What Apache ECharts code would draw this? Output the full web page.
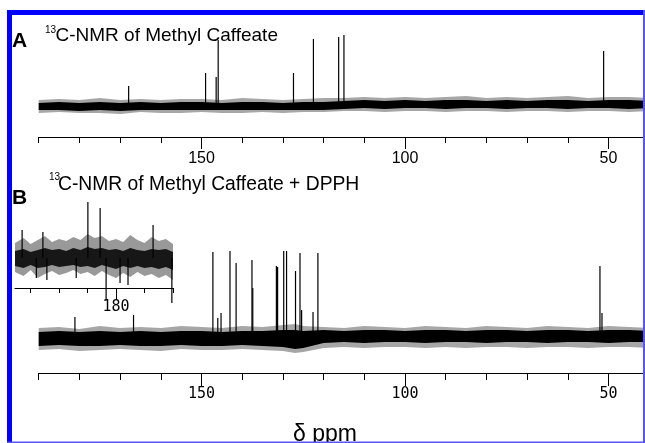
<!DOCTYPE html>
<html><head><meta charset="utf-8">
<script src="https://cdn.jsdelivr.net/npm/echarts@6.0.0/dist/echarts.min.js"></script>
<style>html,body{margin:0;padding:0;background:#fff}#c{width:645px;height:443px}</style>
</head><body><div id="c"></div>
<script>
// ---- axis ticks / labels (ppm) ----
const ticksMain = [50,60,70,80,90,100,110,120,130,140,150,160,170,180,190];
const labelsMain = [50,100,150];
const ticksInset = [178,179,181,182,183];
const labelsInset = [180];

// ---- Panel A: 13C-NMR of Methyl Caffeate (ppm, intensity a.u.) ----
const peaksA_ppm = [167.9,149.0,146.4,145.9,127.4,122.5,116.3,115.0,51.2];
const peaksA_int = [20,33,29,66,33,67,69,71,55];
// noise envelope A (read every 5 ppm)
const envA_ppm   = [190,185,180,175,170,165,160,155,150,145,140,135,130,125,120,115,110,105,100,95,90,85,80,75,70,65,60,55,50,45,40];
const envA_outHi = [6,7,6,8,6,7,6,7,7,6,8,7,6,7,8,8,9,8,9,8,9,10,8,9,8,9,10,8,9,9,8];
const envA_outLo = [-7,-6,-7,-7,-8,-6,-7,-7,-6,-7,-7,-6,-7,-6,-6,-5,-5,-6,-5,-5,-6,-5,-5,-6,-5,-5,-6,-5,-5,-6,-5];
const envA_inHi  = [3,4,3,4,3,4,3,4,4,3,4,4,3,4,4,5,6,5,6,5,6,6,5,6,5,6,6,5,6,6,5];
const envA_inLo  = [-4,-4,-5,-4,-5,-4,-4,-4,-4,-4,-4,-4,-4,-4,-4,-3,-2,-3,-2,-2,-3,-2,-2,-3,-2,-2,-3,-2,-2,-3,-2];

// ---- Panel B: 13C-NMR of Methyl Caffeate + DPPH ----
const peaksB_ppm = [181.1,166.7,147.2,146.0,145.2,143.0,141.5,137.6,137.4,131.6,131.3,129.8,129.1,126.9,125.8,125.4,122.6,121.4,52.1,51.6];
const peaksB_int = [21,23,86,20,25,87,75,78,50,72,71,87,87,67,85,28,26,85,72,25];
const envB_ppm   = [190,185,180,175,170,165,160,155,150,145,140,135,130,127,125,120,115,110,105,100,95,90,85,80,75,70,65,60,55,50,45,40];
const envB_outHi = [10,11,9,12,10,11,10,12,11,10,12,11,13,14,12,11,10,12,11,10,12,11,10,12,11,10,12,11,10,12,11,10];
const envB_outLo = [-12,-11,-13,-12,-11,-12,-13,-11,-12,-12,-11,-12,-13,-15,-14,-10,-9,-10,-9,-9,-10,-9,-10,-9,-9,-10,-9,-9,-10,-9,-9,-10];
const envB_inHi  = [6,7,6,7,6,7,6,7,7,6,7,7,8,8,7,8,7,8,8,7,8,8,7,8,8,7,8,8,7,8,8,7];
const envB_inLo  = [-8,-7,-8,-8,-7,-8,-8,-7,-8,-8,-7,-8,-9,-11,-10,-5,-4,-5,-4,-4,-5,-4,-4,-5,-4,-4,-5,-4,-4,-5,-4,-4];

// ---- Inset (B, ~180 ppm region) ----
const spikesIn_ppm = [183.3,182.8,182.57,182.43,181.4,180.99,180.56,180.35,179.86,179.58,178.7,178.04];
const spikesIn_int = [28,-20,26,-22,-20,56,50,-42,-25,-27,33,-45];
const envIn_ppm   = [183.55,183.25,183,182.75,182.5,182.25,182,181.75,181.5,181.25,181,180.75,180.5,180.25,180,179.75,179.5,179.25,179,178.75,178.5,178.25,178];
const envIn_outHi = [15,20,14,18,22,16,19,17,21,18,24,20,22,17,19,16,23,18,15,21,17,19,14];
const envIn_outLo = [-14,-18,-12,-20,-16,-13,-17,-15,-12,-16,-14,-18,-13,-17,-20,-15,-19,-14,-18,-16,-20,-17,-22];
const envIn_inHi  = [7,9,6,8,10,8,9,7,10,8,11,9,10,8,9,7,10,8,7,9,8,9,6];
const envIn_inLo  = [-8,-10,-7,-10,-9,-7,-9,-8,-7,-9,-8,-10,-7,-9,-11,-8,-10,-8,-10,-9,-11,-9,-12];

function band(xi, ppm, lo, hi, color, opacity) {
  return {
    type: 'custom', xAxisIndex: xi, yAxisIndex: Math.floor(xi/2), clip: false, silent: true,
    data: ppm.map((p,i)=>[p, lo[i], hi[i]]),
    renderItem: function(params, api) {
      if (params.dataIndex !== 0) return null;
      const pts = [];
      for (let i=0;i<ppm.length;i++) pts.push(api.coord([ppm[i], hi[i]]));
      for (let i=ppm.length-1;i>=0;i--) pts.push(api.coord([ppm[i], lo[i]]));
      return {type:'polygon', shape:{points:pts}, style:{fill:color, opacity:opacity}};
    }
  };
}
function sticks(xi, ppm, h, w) {
  return {
    type: 'custom', xAxisIndex: xi, yAxisIndex: Math.floor(xi/2), clip: false, silent: true,
    data: ppm.map((p,i)=>[p, h[i]]),
    renderItem: function(params, api) {
      const a = api.coord([api.value(0), 0]);
      const b = api.coord([api.value(0), api.value(1)]);
      return {type:'line', shape:{x1:a[0], y1:a[1], x2:b[0], y2:b[1]}, style:{stroke:'#000', lineWidth:w}};
    }
  };
}
function minorAxis(g, mn, mx, ticks, len) {
  return {gridIndex:g, type:'value', inverse:true, min:mn, max:mx, position:'bottom',
    axisLine:{show:true, onZero:false, lineStyle:{color:'#000', width:1.2}},
    axisTick:{show:true, customValues:ticks, length:len, lineStyle:{color:'#000', width:1}},
    axisLabel:{show:false}, splitLine:{show:false}};
}
function majorAxis(g, mn, mx, vals, len, font, size, margin) {
  return {gridIndex:g, type:'value', inverse:true, min:mn, max:mx, position:'bottom',
    axisLine:{show:false, onZero:false},
    axisTick:{show:true, customValues:vals, length:len, lineStyle:{color:'#000', width:1}},
    axisLabel:{show:true, customValues:vals, color:'#000', fontFamily:font, fontSize:size, margin:margin},
    splitLine:{show:false}};
}

const chart = echarts.init(document.getElementById('c'), null, {renderer:'canvas'});
const option = {
  animation: false,
  backgroundColor: '#fff',
  grid: [
    {left:38.7, top:30, width:610.5, height:107, outerBoundsMode:'none'},
    {left:38.7, top:240, width:610.5, height:133, outerBoundsMode:'none'},
    {left:15, top:200, width:158, height:88, outerBoundsMode:'none'}
  ],
  xAxis: [
    minorAxis(0, 40, 190, ticksMain, 6),
    majorAxis(0, 40, 190, labelsMain, 12, '"Liberation Sans", Arial, sans-serif', 16, 14),
    minorAxis(1, 40, 190, ticksMain, 7),
    majorAxis(1, 40, 190, labelsMain, 13, '"DejaVu Sans Mono", monospace', 15, 13.5),
    minorAxis(2, 178, 183.55, ticksInset, 5),
    majorAxis(2, 178, 183.55, labelsInset, 12, '"DejaVu Sans Mono", monospace', 15, 12)
  ],
  yAxis: [
    {gridIndex:0, type:'value', min:-31, max:76, show:false},
    {gridIndex:1, type:'value', min:-35, max:98, show:false},
    {gridIndex:2, type:'value', min:-30, max:58, show:false}
  ],
  series: [
    band(0, envA_ppm, envA_outLo, envA_outHi, '#000', 0.35),
    band(0, envA_ppm, envA_inLo, envA_inHi, '#000', 1),
    sticks(0, peaksA_ppm, peaksA_int, 1.2),
    band(2, envB_ppm, envB_outLo, envB_outHi, '#000', 0.35),
    band(2, envB_ppm, envB_inLo, envB_inHi, '#000', 1),
    sticks(2, peaksB_ppm, peaksB_int, 1.2),
    band(4, envIn_ppm, envIn_outLo, envIn_outHi, '#000', 0.4),
    band(4, envIn_ppm, envIn_inLo, envIn_inHi, '#000', 0.85),
    sticks(4, spikesIn_ppm, spikesIn_int, 1.2)
  ],
  graphic: [
    {type:'text', x:12, y:41.5, style:{text:'A', font:'bold 21px "Liberation Sans", Arial', fill:'#000', verticalAlign:'middle', textVerticalAlign:'middle'}},
    {type:'text', x:45, y:30, style:{text:'13', font:'10px "Liberation Sans", Arial', fill:'#000', verticalAlign:'middle', textVerticalAlign:'middle'}},
    {type:'text', x:55.5, y:35.5, style:{text:'C-NMR of Methyl Caffeate', font:'19px "Liberation Sans", Arial', fill:'#000', verticalAlign:'middle', textVerticalAlign:'middle'}},
    {type:'text', x:12, y:198.5, style:{text:'B', font:'bold 21px "Liberation Sans", Arial', fill:'#000', verticalAlign:'middle', textVerticalAlign:'middle'}},
    {type:'text', x:49, y:177, style:{text:'13', font:'10px "Liberation Sans", Arial', fill:'#000', verticalAlign:'middle', textVerticalAlign:'middle'}},
    {type:'text', x:58, y:184.5, style:{text:'C-NMR of Methyl Caffeate + DPPH', font:'19.3px "Liberation Sans", Arial', fill:'#000', verticalAlign:'middle', textVerticalAlign:'middle'}},
    {type:'text', x:325, y:435, style:{text:'δ ppm', font:'23px "Liberation Sans", Arial', fill:'#000', align:'center', textAlign:'center', verticalAlign:'middle', textVerticalAlign:'middle'}},
    {type:'rect', z:100, shape:{x:7, y:10, width:637, height:5}, style:{fill:'#0000ff'}},
    {type:'rect', z:100, shape:{x:7, y:10, width:5, height:433}, style:{fill:'#0000ff'}},
    {type:'rect', z:100, shape:{x:643, y:10, width:2, height:433}, style:{fill:'#5555ff'}},
    {type:'rect', z:100, shape:{x:7, y:441.5, width:638, height:1.5}, style:{fill:'#5555ff'}}
  ]
};
chart.setOption(option);
</script>
</body></html>
